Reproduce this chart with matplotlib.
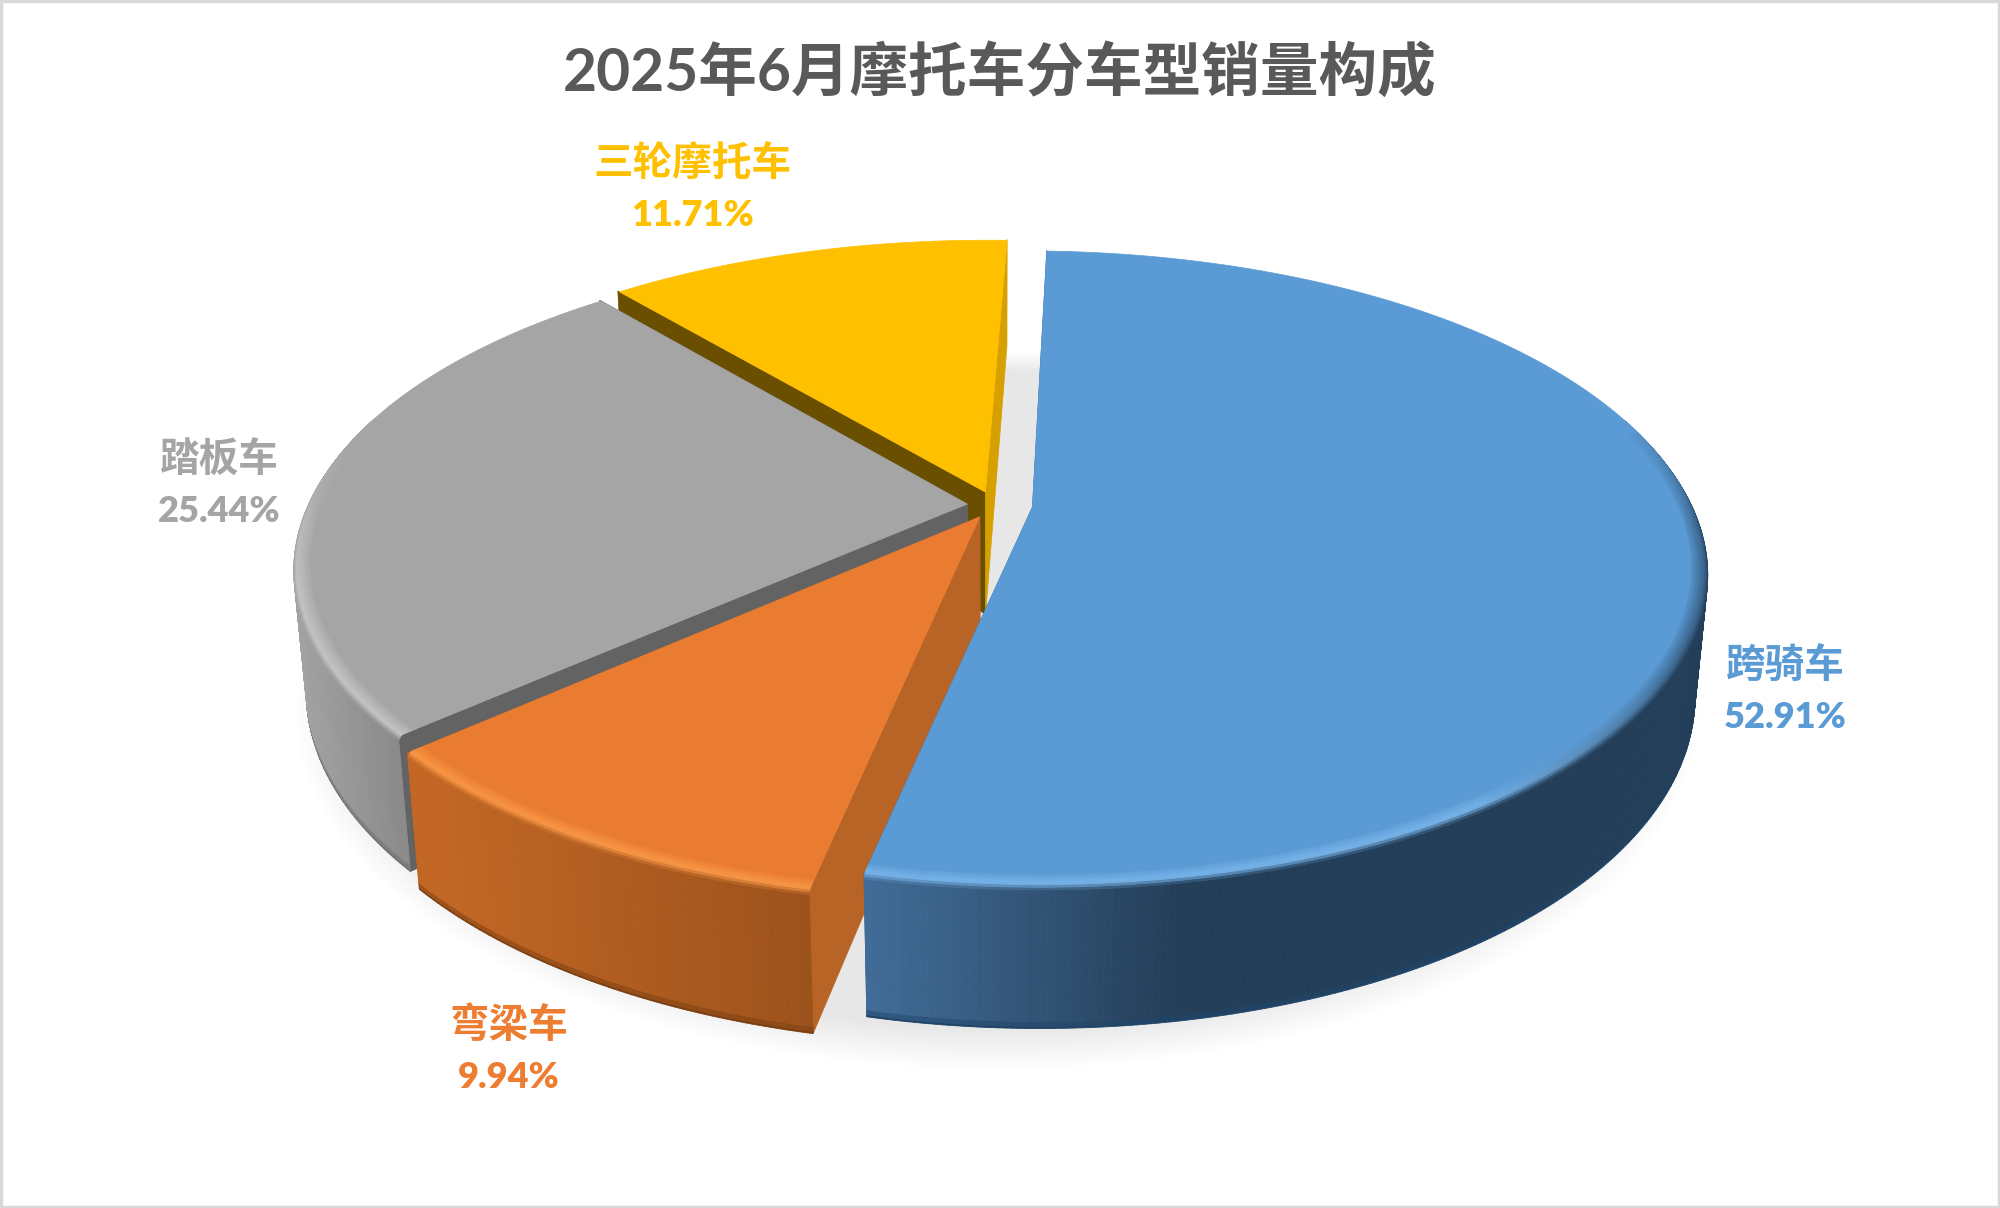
import numpy as np
import matplotlib
matplotlib.use("Agg")
import matplotlib.pyplot as plt
from matplotlib.collections import PolyCollection
from matplotlib.colors import to_rgb
from matplotlib.patches import Rectangle

# ---- data ----
title = "2025年6月摩托车分车型销量构成"
categories = ["跨骑车", "弯梁车", "踏板车", "三轮摩托车"]
shares = [52.91, 9.94, 25.44, 11.71]

# ---- styles ----
top_colors = ["#5B9BD5", "#E97C30", "#A5A5A5", "#FFC000"]
label_colors = ["#5B9BD5", "#ED7D31", "#A5A5A5", "#FFC000"]
start_cut = ["#2F5F8C", "#B86426", "#636363", "#6B4F00"]   # wall at slice start
end_cut = ["#2F5F8C", "#B86426", "#636363", "#D6A000"]     # wall at slice end
hl_colors = ["#77B4EA", "#F99745", "#C4C4C4", "#FFC000"]
wall_left = ["#416C97", "#C36725", "#A2A2A2", "#BF9000"]
wall_right = ["#233E58", "#9C521B", "#848484", "#BF9000"]
wall_span = [(870, 1180), (431, 810), (296, 420), (600, 1000)]
bottom_edge = ["#1F4468", "#7A3E10", "#6E6E6E", "#806000"]
explode = [0.057, 0.045, 0.042, 0.045]
trim_start = [0.0, -0.8, 0.0, 0.0]
start_angle = 2.1
label_xy = [(1785, 666), (509, 1025), (219, 460), (693, 164)]
LINE_GAP = 52

CX, CY, RX, RY, K, D, M = 995.0, 505.0, 661.0, 305.5, 0.19, 125.0, 0.018
BACK_LIMIT = 0.3


def project(x, y, z=0.0):
    w = 1 + K * y + M * z
    return CX + RX * x / w, CY - RY * y / w + D * z / w


def mix(a, b, t):
    t = np.clip(t, 0, 1)
    return tuple(a[i] * (1 - t) + b[i] * t for i in range(3))


fig = plt.figure(figsize=(20, 12.08), dpi=100, facecolor="white")
ax = fig.add_axes([0, 0, 1, 1])
ax.set_xlim(0, 2000)
ax.set_ylim(1208, 0)
ax.axis("off")

# soft shadow beneath the pie
th = np.radians(np.linspace(0, 360, 361))
for r in np.linspace(1.06, 0.98, 12):
    sx, sy = project(r * np.sin(th), r * np.cos(th), 1.1)
    ax.fill(sx + 2, sy, color="black", alpha=0.0095, lw=0, zorder=1)

# rim profile: radius, depth, 0 = top colour .. 1 = highlight .. 2 = wall .. 3 = bottom edge
S_KEYS = [0.0, 0.45, 0.62, 0.95, 0.985, 1.0]
R_KEYS = [0.972, 0.995, 1.0, 1.0, 1.0, 1.0]
Z_KEYS = [0.0, 0.0, 0.03, 0.95, 0.985, 1.0]
SHADE = [0.0, 1.0, 2.0, 2.0, 3.0, 3.0]
STEPS = np.r_[np.linspace(0, 0.62, 10), np.linspace(0.68, 0.95, 4), 0.985, 1.0]


def slice_surface(i, a0, a1, off, zorder):
    """Rounded rim and outer wall of a slice as a small quad mesh."""
    top, hl = to_rgb(top_colors[i]), to_rgb(hl_colors[i])
    wl, wr = to_rgb(wall_left[i]), to_rgb(wall_right[i])
    bot = to_rgb(bottom_edge[i])
    angs = np.radians(np.linspace(a0, a1, max(int((a1 - a0) * 2), 8)))
    rs = np.interp(STEPS, S_KEYS, R_KEYS)
    zs = np.interp(STEPS, S_KEYS, Z_KEYS)
    ss = np.interp(STEPS, S_KEYS, SHADE)
    polys, cols = [], []
    # the wall goes first, so that the rim paints over it
    for k in range(len(STEPS) - 2, -1, -1):
        for j in range(len(angs) - 1):
            t0, t1 = angs[j], angs[j + 1]
            tm = 0.5 * (t0 + t1)
            # the far part of a slice only shows its top face
            if np.cos(tm) > BACK_LIMIT:
                continue
            visible = np.clip((BACK_LIMIT - np.cos(tm)) / 0.35, 0, 1)
            front = np.clip((0.35 - np.cos(tm)) / 0.6, 0, 1)
            xm, _ = project(off[0] + np.sin(tm), off[1] + np.cos(tm), 0.0)
            u = (xm - wall_span[i][0]) / (wall_span[i][1] - wall_span[i][0])
            wall = mix(wl, wr, u)
            right = np.clip((np.sin(tm) - 0.55) / 0.35, 0, 1) * (i == 0)
            h = mix(mix(top, hl, front), mix(top, wall, 0.6), right)
            h = mix(top, h, visible)
            s = 0.5 * (ss[k] + ss[k + 1])
            if s <= 1:
                c = mix(top, h, s)
            elif s <= 2:
                c = mix(h, wall, s - 1)
            else:
                c = mix(wall, bot, s - 2)
            pts = []
            for t, r, z in ((t0, rs[k], zs[k]), (t1, rs[k], zs[k]),
                            (t1, rs[k + 1], zs[k + 1]), (t0, rs[k + 1], zs[k + 1])):
                pts.append(project(off[0] + r * np.sin(t), off[1] + r * np.cos(t), z))
            polys.append(pts)
            cols.append(c)
    ax.add_collection(PolyCollection(polys, facecolors=cols, edgecolors=cols,
                                     linewidths=0.6, zorder=zorder))


# slices are painted back to front
total = sum(shares)
edges = start_angle + np.cumsum([0] + [v / total * 360 for v in shares])
for i in [3, 2, 1, 0]:
    a0, a1 = edges[i] + trim_start[i], edges[i + 1]
    mid = np.radians(0.5 * (edges[i] + edges[i + 1]))
    off = (explode[i] * np.sin(mid), explode[i] * np.cos(mid))
    z = 10 + (3 - i) * 3

    # flat cut faces
    for ang, col in ((a0, start_cut[i]), (a1, end_cut[i])):
        ex = off[0] + np.sin(np.radians(ang))
        ey = off[1] + np.cos(np.radians(ang))
        qx, qy = zip(project(*off, 0), project(ex, ey, 0),
                     project(ex, ey, 1), project(*off, 1))
        ax.fill(qx, qy, color=col, lw=0.5, zorder=z)

    # rim, wall and top face
    slice_surface(i, a0, a1, off, z + 1)
    ang = np.radians(np.linspace(a0, a1, 600))
    front_r = np.where(np.cos(ang) > BACK_LIMIT - 0.04, 0.995, 0.975)
    inner_x, inner_y = project(np.r_[off[0], off[0] + front_r * np.sin(ang)],
                               np.r_[off[1], off[1] + front_r * np.cos(ang)], 0.0)
    ax.fill(inner_x, inner_y, color=top_colors[i], lw=0.5, zorder=z + 2)

# data labels
for name, v, col, (lx, ly) in zip(categories, shares, label_colors, label_xy):
    ax.text(lx, ly, name, color=col, fontsize=28.5, ha="center", va="center",
            family=["Noto Sans CJK SC"], weight="bold", zorder=40)
    ax.text(lx, ly + LINE_GAP, f"{v:.2f}%", color=col, fontsize=26, ha="center",
            va="center", family=["Lato", "Noto Sans CJK SC"], weight=800, zorder=40)

ax.text(1000, 72, title, color="#595959", fontsize=42.2, ha="center", va="center",
        family=["Lato", "Noto Sans CJK SC"], weight="bold", zorder=40)

ax.add_patch(Rectangle((1, 1), 1998, 1206, fill=False, ec="#D9D9D9", lw=2.5, zorder=50))

fig.savefig("out.png", dpi=100, facecolor="white")
